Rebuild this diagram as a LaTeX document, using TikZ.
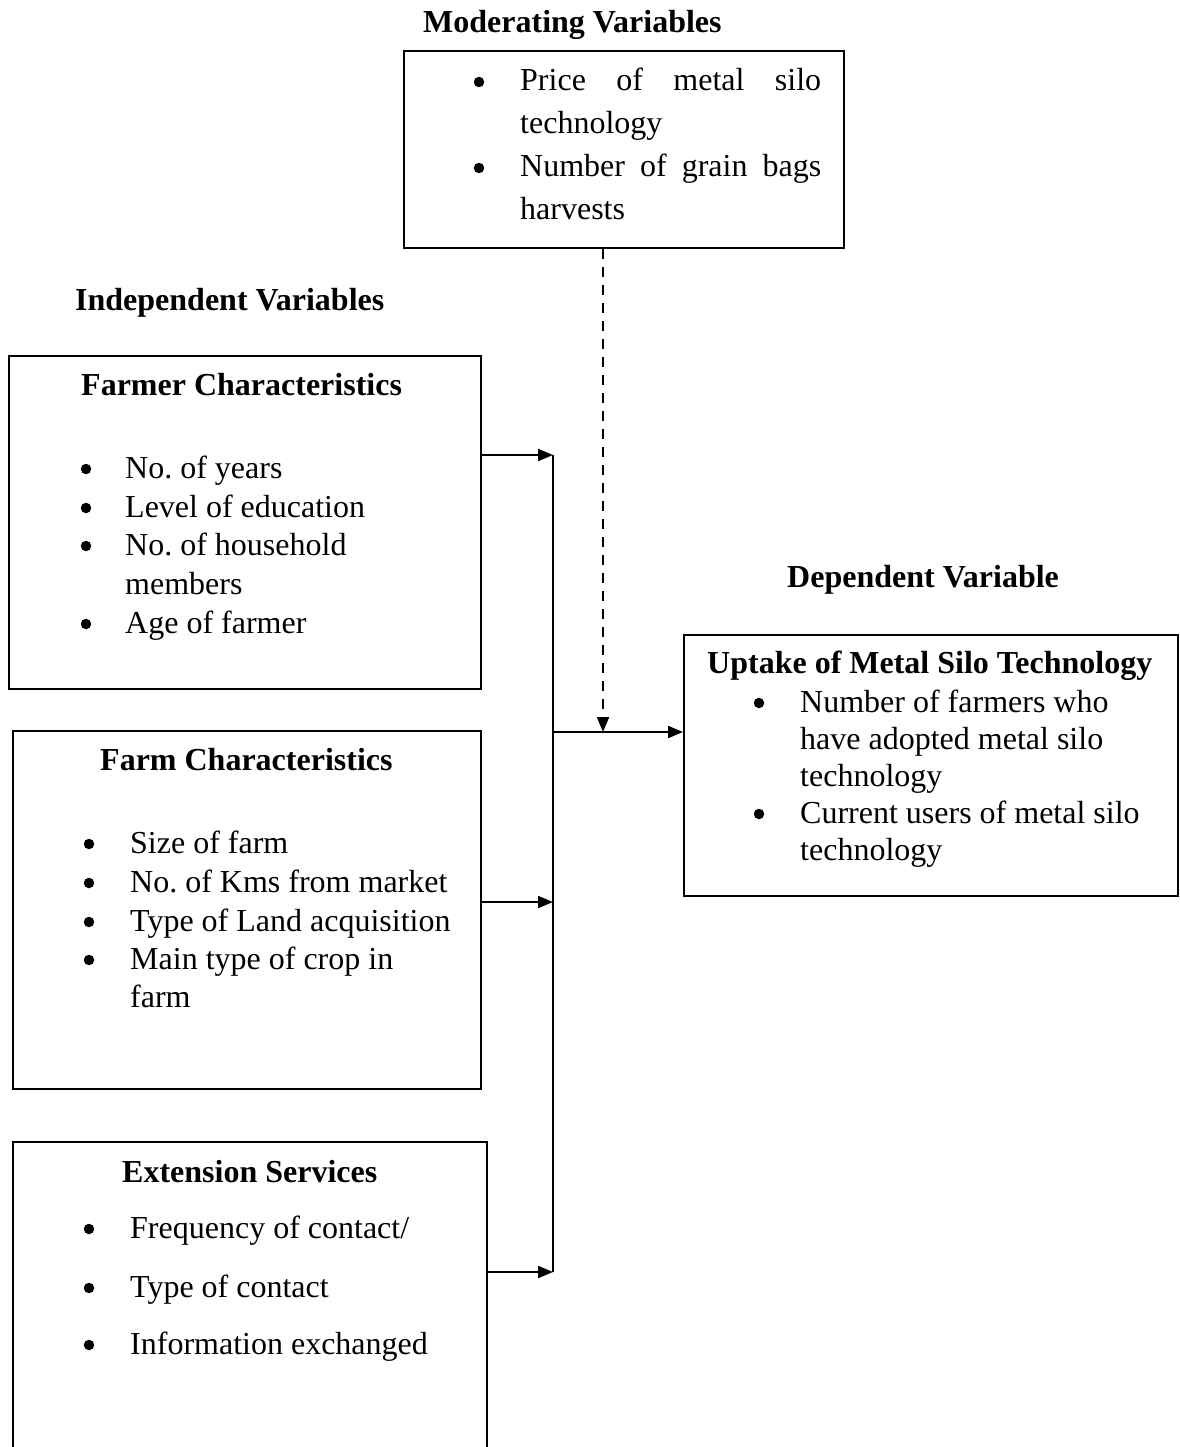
\documentclass[tikz,border=0pt]{standalone}
\usepackage{fontspec}
\setmainfont{Liberation Serif}
\usetikzlibrary{arrows.meta}
\frenchspacing
\tikzset{
  box/.style={draw, line width=2pt, inner sep=0pt, anchor=north west},
  openbox/.style={inner sep=0pt, anchor=north west},
  txt/.style={anchor=base west, inner sep=0pt, font=\fontsize{32}{38}\selectfont},
  hd/.style={anchor=base west, inner sep=0pt, font=\fontsize{32}{38}\selectfont\bfseries},
  dot/.style={circle, fill=black, inner sep=0pt, minimum size=10.5pt},
  conn/.style={line width=2pt},
  arr/.style={line width=2pt, -{Triangle[length=15pt,width=12pt]}},
  dsh/.style={line width=2pt, dash pattern=on 10pt off 8pt, -{Triangle[length=15pt,width=12pt]}},
}
% name, bullet centre x, text x, baseline y, text
\newcommand{\bitem}[5]{%
  \node[dot] (#1b) at (#2,#4-9) {};
  \node[txt] (#1) at (#3,#4) {#5};}
\begin{document}
\begin{tikzpicture}[x=1pt,y=-1pt]
\useasboundingbox (0,0) rectangle (1179,1447);

% headings
\node[hd] (hmod) at (423,33) {Moderating Variables};
\node[hd] (hind) at (75,310) {Independent Variables};
\node[hd] (hdep) at (787,587) {Dependent Variable};

% moderating box
\node[box, minimum width=440pt, minimum height=197pt] (mod) at (403,50) {};
\bitem{m1}{479}{520}{91}{\makebox[301pt][s]{Price of metal silo}}
\node[txt] (m2) at (520,134) {technology};
\bitem{m3}{479}{520}{177}{\makebox[301pt][s]{Number of grain bags}}
\node[txt] (m4) at (520,220) {harvests};

% farmer characteristics
\node[box, minimum width=472pt, minimum height=333pt] (farmer) at (8,355) {};
\node[hd] (tfarmer) at (81,395) {Farmer Characteristics};
\bitem{fa1}{86}{125}{478}{No. of years}
\bitem{fa2}{86}{125}{517}{Level of education}
\bitem{fa3}{86}{125}{555}{No. of household}
\node[txt] (fa4) at (125,594) {members};
\bitem{fa5}{86}{125}{633}{Age of farmer}

% farm characteristics
\node[box, minimum width=468pt, minimum height=358pt] (farm) at (12,730) {};
\node[hd] (tfarm) at (100,770) {Farm Characteristics};
\bitem{fm1}{89}{130}{853}{Size of farm}
\bitem{fm2}{89}{130}{892}{No. of Kms from market}
\bitem{fm3}{89}{130}{931}{Type of Land acquisition}
\bitem{fm4}{89}{130}{969}{Main type of crop in}
\node[txt] (fm5) at (130,1007) {farm};

% extension services (bottom edge outside the page)
\node[openbox, minimum width=474pt, minimum height=305pt] (ext) at (13,1142) {};
\draw[conn] (ext.south west) -- (ext.north west) -- (ext.north east) -- (ext.south east);
\node[hd] (text) at (122,1182) {Extension Services};
\bitem{ex1}{89}{130}{1238}{Frequency of contact/}
\bitem{ex2}{89}{130}{1297}{Type of contact}
\bitem{ex3}{89}{130}{1354}{Information exchanged}

% dependent box
\node[box, minimum width=494pt, minimum height=261pt] (dep) at (683,634) {};
\node[hd] (tdep) at (707,673) {Uptake of Metal Silo Technology};
\bitem{d1}{759}{800}{712}{Number of farmers who}
\node[txt] (d2) at (800,749) {have adopted metal silo};
\node[txt] (d3) at (800,786) {technology};
\bitem{d4}{759}{800}{823}{Current users of metal silo}
\node[txt] (d5) at (800,860) {technology};

% connectors
\coordinate (j1) at (553,455);
\coordinate (j2) at (553,902);
\coordinate (j3) at (553,1272);
\coordinate (jm) at (553,732);
\coordinate (jd) at (603,732);
\draw[arr] (farmer.east |- j1) -- (j1);
\draw[arr] (farm.east |- j2) -- (j2);
\draw[arr] (ext.east |- j3) -- (j3);
\draw[conn] (j1) -- (j3);
\draw[arr] (jm) -- (dep.west |- jm);
\draw[dsh] (mod.south -| jd) -- (jd);
\end{tikzpicture}
\end{document}
